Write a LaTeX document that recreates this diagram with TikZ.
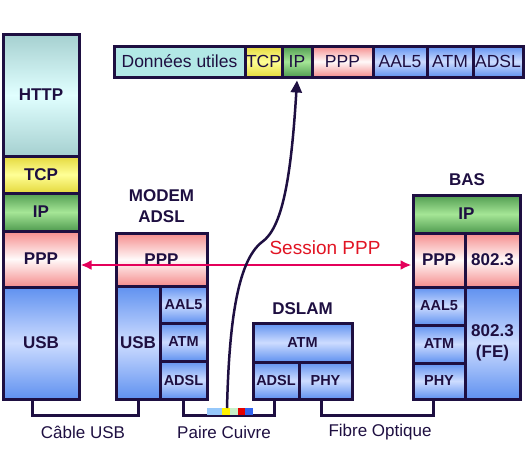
\documentclass[tikz,border=0pt]{standalone}
\usepackage{fontspec}
\setmainfont{Liberation Sans}
\usepackage{tikz}
\usetikzlibrary{arrows.meta,calc,positioning}

\definecolor{frame}{RGB}{30,15,65}
\definecolor{httpA}{RGB}{165,208,208}
\definecolor{httpB}{RGB}{225,255,255}
\definecolor{tcpA}{RGB}{228,216,60}
\definecolor{tcpB}{RGB}{255,255,150}
\definecolor{ipA}{RGB}{80,155,80}
\definecolor{ipB}{RGB}{165,230,150}
\definecolor{pppA}{RGB}{245,140,140}
\definecolor{pppB}{RGB}{255,250,250}
\definecolor{usbA}{RGB}{95,145,240}
\definecolor{usbB}{RGB}{205,220,255}
\definecolor{dataC}{RGB}{178,232,230}
\definecolor{sess}{RGB}{228,0,90}
\definecolor{sesstxt}{RGB}{225,20,35}

\begin{document}
\begin{tikzpicture}[x=1pt,y=-1pt,
    box/.style={draw=frame, line width=3pt, inner sep=0pt, align=center, text=frame},
    cellsize/.style 2 args={minimum width=#1pt, minimum height=#2pt},
    big/.style={font=\fontsize{17}{21}\selectfont\bfseries},
    small/.style={font=\fontsize{14.5}{16}\selectfont\bfseries},
    bar/.style={font=\fontsize{17.5}{19}\selectfont},
    title/.style={font=\fontsize{17}{21}\selectfont\bfseries, text=frame, align=center},
    http/.style={top color=httpA, bottom color=httpA, middle color=httpB},
    tcp/.style={top color=tcpA, bottom color=tcpA, middle color=tcpB},
    ip/.style={top color=ipA, bottom color=ipA, middle color=ipB},
    ppp/.style={top color=pppA, bottom color=pppA, middle color=pppB},
    usb/.style={top color=usbA, bottom color=usbA, middle color=usbB},
    data/.style={fill=dataC},
    lead/.style={draw=frame, line width=3pt},
    signal/.style={draw=frame, line width=2.5pt, -{Triangle[length=12pt,width=11pt]}},
    session/.style={draw=sess, line width=2.5pt,
        {Latex[length=11pt,width=10pt]}-{Latex[length=11pt,width=10pt]}},
    wire/.style={font=\fontsize{17}{19}\selectfont, text=frame}
  ]
  \useasboundingbox (0,0) rectangle (529,448);

  % poste client
  \node[box, big, http, cellsize={76}{122}] (lhttp) at (41,95) {HTTP};
  \node[box, big, tcp, cellsize={76}{37}] (ltcp) at (41,174.5) {TCP};
  \node[box, big, ip, cellsize={76}{38}] (lip) at (41,212) {IP};
  \node[box, big, ppp, cellsize={76}{56}] (lppp) at (41,259) {PPP};
  \node[box, big, usb, cellsize={76}{112}] (lusb) at (41,343) {USB};

  % modem
  \node[title] (modemt) at (161.5,206) {MODEM\\ADSL};
  \node[box, big, ppp, cellsize={91}{53}] (mppp) at (161.5,259.5) {PPP};
  \node[box, big, usb, cellsize={44}{113}] (musb) at (138,342.5) {USB};
  \node[box, small, usb, cellsize={47}{37}] (maal) at (183.5,304.5) {AAL5};
  \node[box, small, usb, cellsize={47}{38}] (matm) at (183.5,342) {ATM};
  \node[box, small, usb, cellsize={47}{38}] (madsl) at (183.5,380) {ADSL};

  % dslam
  \node[title] (dslamt) at (302.5,309) {DSLAM};
  \node[box, small, usb, cellsize={99}{39}] (datm) at (302.5,342.5) {ATM};
  \node[box, small, usb, cellsize={46}{37}] (dadsl) at (276,380.5) {ADSL};
  \node[box, small, usb, cellsize={53}{37}] (dphy) at (325.5,380.5) {PHY};

  % bas
  \node[title] (bast) at (467,180) {BAS};
  \node[box, big, ip, cellsize={107}{38}] (bip) at (466.5,214) {IP};
  \node[box, big, ppp, cellsize={52}{54}] (bppp) at (439,260) {PPP};
  \node[box, big, ppp, cellsize={55}{54}] (beth) at (492.5,260) {802.3};
  \node[box, small, usb, cellsize={52}{38}] (baal) at (439,306) {AAL5};
  \node[box, small, usb, cellsize={52}{38}] (batm) at (439,344) {ATM};
  \node[box, small, usb, cellsize={52}{36}] (bphy) at (439,381) {PHY};
  \node[box, big, usb, cellsize={55}{112}] (bfe) at (492.5,343) {802.3\\(FE)};

  % trame
  \node[box, bar, data, cellsize={131}{31}] (tdata) at (179.5,61.5) {Données utiles};
  \node[box, bar, tcp, cellsize={37}{31}] (ttcp) at (263.5,61.5) {TCP};
  \node[box, bar, ip, cellsize={30}{31}] (tip) at (297,61.5) {IP};
  \node[box, bar, ppp, cellsize={61}{31}] (tppp) at (342.5,61.5) {PPP};
  \node[box, bar, usb, cellsize={54}{31}] (taal) at (400,61.5) {AAL5};
  \node[box, bar, usb, cellsize={46}{31}] (tatm) at (450,61.5) {ATM};
  \node[box, bar, usb, cellsize={50}{31}] (tadsl) at (498,61.5) {ADSL};

  % liaisons
  \draw[lead] ([xshift=-9pt]lusb.south) -- ++(0,15) -| (musb.south);
  \draw[lead] (madsl.south) -- ++(0,15) -| ([xshift=-2pt]dadsl.south);
  \draw[lead] ([xshift=-4pt]dphy.south) -- ++(0,15) -| ([xshift=-6pt]bphy.south);
  \node[wire] (usbw) at (83,432) {Câble USB};
  \node[wire] (cuw) at (224,432) {Paire Cuivre};
  \node[wire] (fow) at (380,432) {Fibre Optique};

  % signal sur la paire
  \fill[color={rgb,255:red,150;green,200;blue,250}] (207,408) rectangle (222,415);
  \fill[yellow] (222,408) rectangle (230,415);
  \fill[color={rgb,255:red,200;green,240;blue,200}] (230,408) rectangle (238,415);
  \fill[color={rgb,255:red,230;green,0;blue,0}] (238,408) rectangle (245,415);
  \fill[color={rgb,255:red,50;green,100;blue,240}] (245,408) rectangle (253,415);
  \coordinate (sig) at (227,408);

  % session
  \draw[session] ([yshift=-6pt]lppp.east) -- ([yshift=-5pt]bppp.west);
  \node[font=\fontsize{19}{21}\selectfont, text=sesstxt] (sesst) at (325,248) {Session PPP};
  \draw[signal] (sig) .. controls (229,330) and (236,262) .. (262,242)
      .. controls (282,228) and (291,180) .. ([yshift=-2pt]tip.south);
\end{tikzpicture}
\end{document}
